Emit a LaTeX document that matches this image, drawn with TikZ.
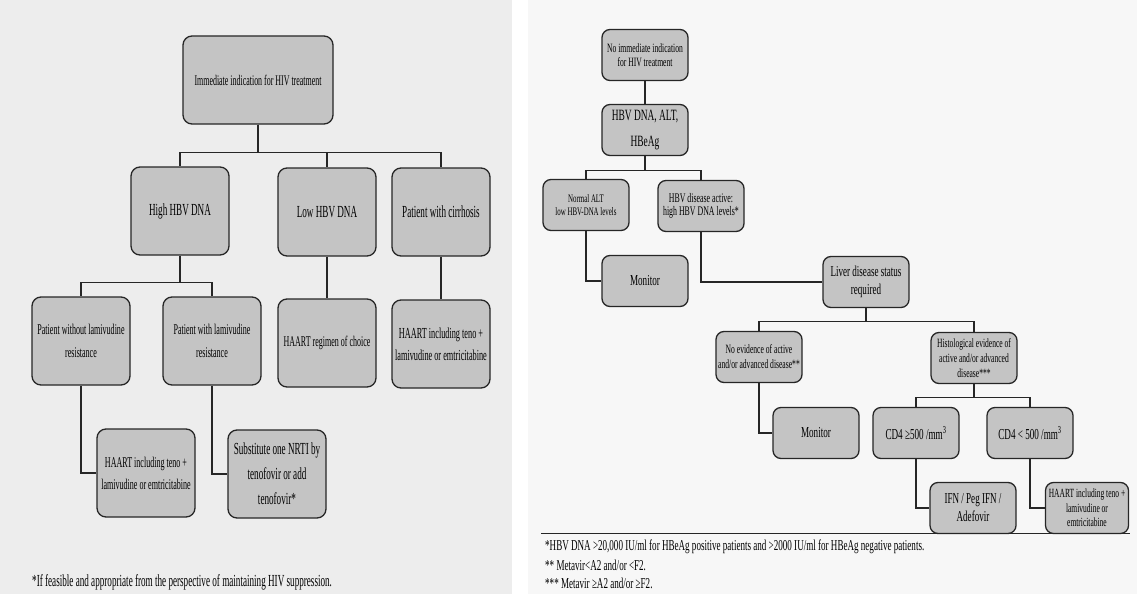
\documentclass[tikz,border=0pt]{standalone}
\usepackage{fontspec}
\setmainfont[FakeStretch=0.6]{Liberation Serif}
\newfontfamily\leftfont[FakeStretch=0.54]{Liberation Serif}
\usepackage{tikz}

\newcommand{\fsz}[2]{\fontsize{#1}{#2}\selectfont}
\newcommand{\lsz}[2]{\leftfont\fontsize{#1}{#2}\selectfont}

\begin{document}
\begin{tikzpicture}[x=1pt, y=-1pt,
    bigbox/.style={draw=black!85, line width=1.3pt, fill=black!23, rounded corners=9pt,
      align=center, inner sep=1pt, minimum width=98pt, minimum height=88pt},
    smallbox/.style={draw=black!85, line width=1.3pt, fill=black!23, rounded corners=8pt,
      align=center, inner sep=1pt, minimum width=86pt, minimum height=51pt},
    link/.style={draw=black!85, line width=1.1pt},
    note/.style={anchor=west, inner sep=0pt}]

    \useasboundingbox (0,0) rectangle (1137,594);
    \fill[black!7] (0,0) rectangle (512,594);
    \fill[black!3] (528,0) rectangle (1137,594);

    \node[bigbox, minimum width=150pt, font=\lsz{14.7}{18}] (a) at (258, 80) {Immediate indication for HIV treatment};
    \node[bigbox, font=\lsz{16.9}{20}] (b) at (180, 211) {High HBV DNA};
    \node[bigbox, font=\lsz{16.9}{20}] (c) at (327, 212) {Low HBV DNA};
    \node[bigbox, font=\lsz{16.9}{20}] (d) at (441, 212) {Patient with cirrhosis};
    \node[bigbox, font=\lsz{14.9}{23}] (e) at (81, 341) {Patient without lamivudine\\resistance};
    \node[bigbox, font=\lsz{14.9}{23}] (f) at (212, 341) {Patient with lamivudine\\resistance};
    \node[bigbox, font=\lsz{14.8}{18}] (g) at (327, 343) {HAART regimen of choice};
    \node[bigbox, font=\lsz{15.3}{22}] (h) at (441, 344) {HAART including teno +\\lamivudine or emtricitabine};
    \node[bigbox, font=\lsz{14.9}{22}] (i) at (146, 473) {HAART including teno +\\lamivudine or emtricitabine};
    \node[bigbox, font=\lsz{16.9}{25}] (j) at (277, 474) {Substitute one NRTI by\\tenofovir or add\\tenofovir*};
    \node[note, font=\lsz{16.9}{19}] (k) at (32, 582) {*If feasible and appropriate from the perspective of maintaining HIV suppression.};

    \draw[link] (a.south) -- ++(0,28) -| (b.north);
    \draw[link] (a.south) -- ++(0,28) -| (c.north);
    \draw[link] (a.south) -- ++(0,28) -| (d.north);
    \draw[link] (b.south) -- ++(0,27) -| (e.north);
    \draw[link] (b.south) -- ++(0,27) -| (f.north);
    \draw[link] (c) -- (g);
    \draw[link] (d) -- (h);
    \draw[link] (e) |- (i);
    \draw[link] (f) |- (j);

    \node[smallbox, font=\fsz{12.7}{13.5}] (l) at (645, 55) {No immediate indication\\for HIV treatment};
    \node[smallbox, font=\fsz{15.7}{26}] (m) at (645, 130) {HBV DNA, ALT,\\HBeAg};
    \node[smallbox, font=\fsz{11.5}{13.3}] (n) at (586, 205) {Normal ALT\\low HBV-DNA levels};
    \node[smallbox, font=\fsz{13.1}{13.3}] (o) at (701, 206) {HBV disease active:\\high HBV DNA levels*};
    \node[smallbox, font=\fsz{15.2}{18}] (p) at (645, 281) {Monitor};
    \node[smallbox, font=\fsz{15.1}{18}] (q) at (866, 282) {Liver disease status\\required};
    \node[smallbox, font=\fsz{12.7}{15}] (r) at (759, 357) {No evidence of active\\and/or advanced disease**};
    \node[smallbox, font=\fsz{12.6}{15}] (s) at (974, 358) {Histological evidence of\\active and/or advanced\\disease***};
    \node[smallbox, font=\fsz{15.2}{18}] (t) at (816, 433) {Monitor};
    \node[smallbox, font=\fsz{15.2}{18}] (u) at (916, 433) {CD4 ≥500 /mm\textsuperscript{3}};
    \node[smallbox, font=\fsz{15.2}{18}] (v) at (1030, 433) {CD4 < 500 /mm\textsuperscript{3}};
    \node[smallbox, font=\fsz{15.1}{18}] (w) at (973, 508) {IFN / Peg IFN /\\Adefovir};
    \node[smallbox, minimum width=83pt, font=\fsz{12.5}{14.5}] (x) at (1087, 508) {HAART including teno +\\lamivudine or\\emtricitabine};

    \draw[link] (l) -- (m);
    \draw[link] (m.south) -- ++(0,14) -| (n.north);
    \draw[link] (m.south) -- ++(0,14) -| (o.north);
    \draw[link] (n) |- (p);
    \draw[link] (o) |- (q);
    \draw[link] (q.south) -- ++(0,13) -| (r.north);
    \draw[link] (q.south) -- ++(0,13) -| (s.north);
    \draw[link] (r) |- (t);
    \draw[link] (s.south) -- ++(0,13) -| (u.north);
    \draw[link] (s.south) -- ++(0,13) -| (v.north);
    \draw[link] (u) |- (w);
    \draw[link] (v) |- (x);

    % footnotes under the right chart
    \draw[black!85, line width=1pt] (541, 533) -- (1130, 533);
    \node[note, font=\fsz{15.1}{17}] (y1) at (545, 547) {*HBV DNA >20,000 IU/ml for HBeAg positive patients and >2000 IU/ml for HBeAg negative patients.};
    \node[note, font=\fsz{15.1}{17}] (y2) at (545, 565) {** Metavir<A2 and/or <F2.};
    \node[note, font=\fsz{15.1}{17}] (y3) at (545, 583) {*** Metavir ≥A2 and/or ≥F2.};

\end{tikzpicture}
\end{document}
